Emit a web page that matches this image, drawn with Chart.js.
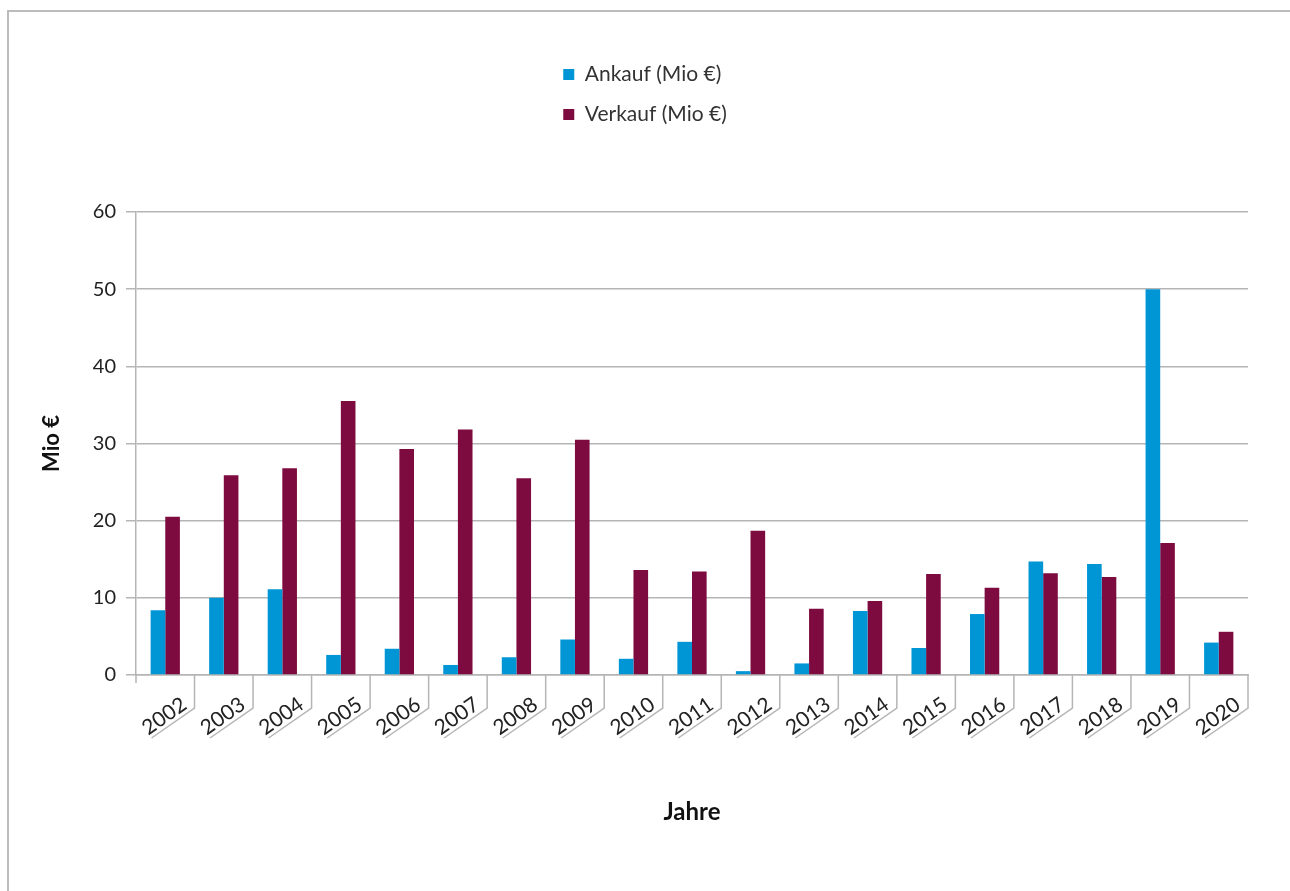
<!DOCTYPE html>
<html>
<head>
<meta charset="utf-8">
<title>Ankauf / Verkauf</title>
<script src="https://cdn.jsdelivr.net/npm/chart.js@4.4.0/dist/chart.umd.min.js"></script>
<style>
  html, body { margin: 0; padding: 0; background: #fff; }
  #frame { position: absolute; left: 7px; top: 10px; width: 1283px; height: 881px;
           border-top: 2px solid #bcbcbc; border-left: 2px solid #bcbcbc; box-sizing: border-box; }
  #wrap { position: absolute; left: 0; top: 0; width: 1290px; height: 891px; }
</style>
</head>
<body>
<div id="frame"></div>
<div id="wrap"><canvas id="chart"></canvas></div>
<script>
var years = ['2002', '2003', '2004', '2005', '2006', '2007', '2008', '2009', '2010', '2011',
             '2012', '2013', '2014', '2015', '2016', '2017', '2018', '2019', '2020'];
var ankauf = [8.4, 10.0, 11.1, 2.6, 3.4, 1.3, 2.3, 4.6, 2.1, 4.3,
              0.5, 1.5, 8.3, 3.5, 7.9, 14.7, 14.4, 50.0, 4.2];
var verkauf = [20.5, 25.9, 26.8, 35.5, 29.3, 31.8, 25.5, 30.5, 13.6, 13.4,
               18.7, 8.6, 9.6, 13.1, 11.3, 13.2, 12.7, 17.1, 5.6];
var yTicks = [0, 10, 20, 30, 40, 50, 60];

var gridColor = '#b5b5b5';
var font = 'Lato';

// two legend rows, left edges lined up, extra space under the legend
var legendRows = {
  id: 'legendRows',
  beforeLayout: function (chart) {
    var lg = chart.legend;
    if (!lg || lg._rowsPatched) return;
    var fitRows = lg._fitRows;
    lg._fitRows = function (titleHeight, fontSize, boxWidth, itemHeight) {
      var mw = this.maxWidth;
      this.maxWidth = 200;
      var h = fitRows.call(this, titleHeight, fontSize, boxWidth, itemHeight);
      this.maxWidth = mw;
      var w = Math.max.apply(null, this.lineWidths);
      this.lineWidths = this.lineWidths.map(function () { return w; });
      return h + 77;
    };
    var draw = lg.draw;
    lg.draw = function () {
      var l = this.left, r = this.right, c = this.chart.width / 2;
      this.left = c - 185;
      this.right = c + 185;
      draw.apply(this, arguments);
      this.left = l;
      this.right = r;
    };
    lg._rowsPatched = true;
  }
};

// Excel style slanted tick marks under the category labels
var slantTicks = {
  id: 'slantTicks',
  afterDraw: function (chart) {
    var x = chart.scales.x, ctx = chart.ctx, bottom = chart.chartArea.bottom;
    var step = x.width / years.length;
    ctx.save();
    ctx.strokeStyle = gridColor;
    ctx.lineWidth = 1.5;
    ctx.beginPath();
    ctx.moveTo(x.left, bottom);
    ctx.lineTo(x.left, bottom + 8);
    for (var i = 1; i <= years.length; i++) {
      var bx = x.left + i * step;
      ctx.moveTo(bx, bottom);
      ctx.lineTo(bx, bottom + 33);
      ctx.lineTo(bx - 43, bottom + 63);
    }
    ctx.stroke();
    ctx.restore();
  }
};

var data = {
  labels: years,
  datasets: [{
    label: 'Ankauf (Mio €)',
    data: ankauf,
    backgroundColor: '#0096D6'
  }, {
    label: 'Verkauf (Mio €)',
    data: verkauf,
    backgroundColor: '#7E0B3F'
  }]
};

var layout = {
  type: 'bar',
  data: data,
  plugins: [legendRows, slantTicks],
  options: {
    responsive: true,
    maintainAspectRatio: false,
    animation: false,
    categoryPercentage: 0.5,
    barPercentage: 1.0,
    layout: {
      padding: { top: 45, right: 42, bottom: 0, left: 0 }
    },
    scales: {
      x: {
        grid: { display: false },
        border: { display: true, color: gridColor, width: 1.5 },
        ticks: {
          autoSkip: false,
          maxRotation: 35,
          minRotation: 35,
          padding: 9,
          labelOffset: 19,
          color: '#222',
          font: { family: font, size: 21 }
        },
        title: {
          display: true,
          text: 'Jahre',
          color: '#111',
          font: { family: font, size: 24, weight: 'bold' },
          padding: { top: 0, bottom: 64 }
        },
        afterFit: function (scale) { scale.height = 216; }
      },
      y: {
        min: yTicks[0],
        max: yTicks[yTicks.length - 1],
        ticks: {
          stepSize: yTicks[1] - yTicks[0],
          padding: 10,
          color: '#222',
          font: { family: font, size: 20 }
        },
        grid: { color: gridColor, lineWidth: 1.5, tickLength: 10 },
        border: { display: true, color: gridColor, width: 1.5 },
        title: {
          display: true,
          text: 'Mio €',
          color: '#111',
          font: { family: font, size: 22, weight: 'bold' },
          padding: { top: 39, bottom: 0 }
        },
        afterFit: function (scale) { scale.width = 136; }
      }
    },
    plugins: {
      legend: {
        display: true,
        position: 'top',
        labels: {
          boxWidth: 11,
          boxHeight: 11,
          padding: 19,
          color: '#333',
          font: { family: font, size: 21 }
        }
      },
      tooltip: { enabled: false }
    }
  }
};

new Chart(document.getElementById('chart'), layout);
</script>
</body>
</html>
